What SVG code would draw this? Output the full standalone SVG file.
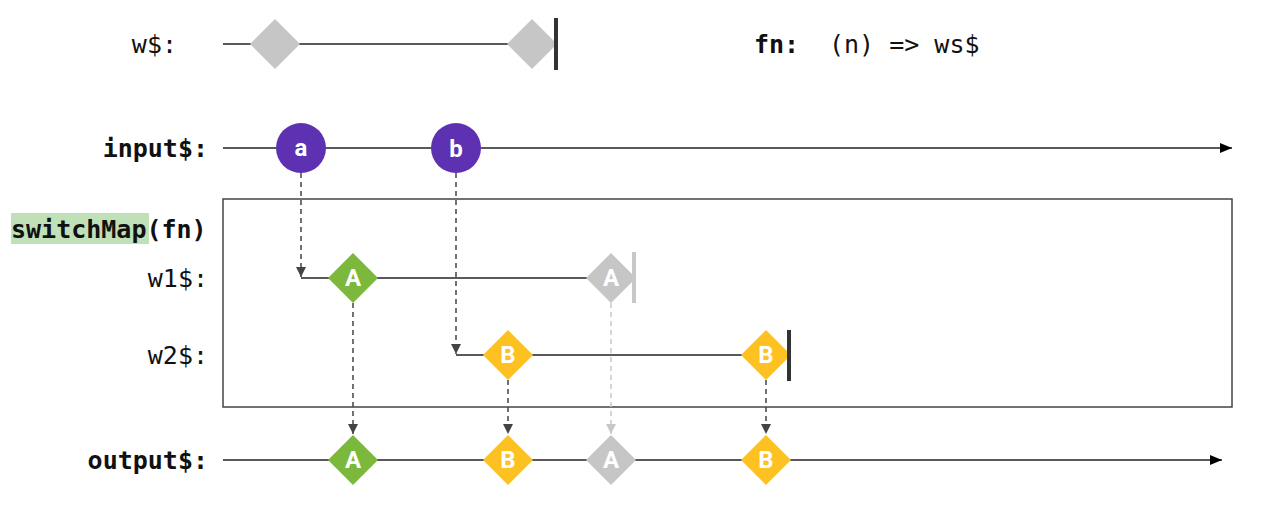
<svg xmlns="http://www.w3.org/2000/svg" width="1276" height="523" viewBox="0 0 1276 523">
<style>
.lbl{font-family:"DejaVu Sans Mono","Liberation Mono",monospace;font-size:25px;fill:#111}
.b{font-weight:bold}
.line{stroke:#222;stroke-width:1.5;fill:none}
.dash{stroke:#444;stroke-width:1.5;stroke-dasharray:5,4;fill:none}
.dashg{stroke:#c8c8c8;stroke-width:1.5;stroke-dasharray:5,4;fill:none}
.in{font-family:Roboto,"Liberation Sans",sans-serif;font-weight:bold;font-size:24px;fill:#fff;text-anchor:middle}
.purple{fill:#5e31b3}
.green{fill:#7cb83b}
.yellow{fill:#fdc122}
.gray{fill:#c6c6c6}
</style>
<defs>
<marker id="ah" viewBox="0 0 10 10" refX="10" refY="5" markerWidth="10" markerHeight="10" markerUnits="userSpaceOnUse" orient="auto"><path d="M0,0L10,5L0,10z" fill="#444"/></marker>
<marker id="ahg" viewBox="0 0 10 10" refX="10" refY="5" markerWidth="10" markerHeight="10" markerUnits="userSpaceOnUse" orient="auto"><path d="M0,0L10,5L0,10z" fill="#c8c8c8"/></marker>
<marker id="ahb" viewBox="0 0 12 10" refX="12" refY="5" markerWidth="12" markerHeight="10" markerUnits="userSpaceOnUse" orient="auto"><path d="M0,0L12,5L0,10z" fill="#000"/></marker>
<path id="dm" d="M0,-25L25,0L0,25L-25,0z"/>
</defs>

<g id="labels">
<text class="lbl" x="177" y="53" text-anchor="end">w$:</text>
<text class="lbl b" x="754" y="53">fn:</text>
<text class="lbl" x="829" y="53">(n) =&gt; ws$</text>
<text class="lbl b" x="208" y="157" text-anchor="end">input$:</text>
<rect x="11" y="213" width="138" height="31" fill="#c0e0b8"/>
<text class="lbl b" x="11" y="238">switchMap(fn)</text>
<text class="lbl" x="208" y="287" text-anchor="end">w1$:</text>
<text class="lbl" x="208" y="364" text-anchor="end">w2$:</text>
<text class="lbl b" x="208" y="469" text-anchor="end">output$:</text>
</g>

<g id="box"><rect x="223" y="199" width="1009" height="208" fill="none" stroke="#444" stroke-width="1.5"/></g>

<g id="connectors">
<line class="line" x1="223" y1="44" x2="556" y2="44"/>
<line class="line" x1="223" y1="148" x2="1232" y2="148" marker-end="url(#ahb)"/>
<line class="line" x1="301" y1="278" x2="611" y2="278"/>
<line class="line" x1="456" y1="355" x2="766" y2="355"/>
<line class="line" x1="223" y1="460" x2="1222" y2="460" marker-end="url(#ahb)"/>
<path class="dash" d="M301,173V277" marker-end="url(#ah)"/>
<path class="dash" d="M456,173V354" marker-end="url(#ah)"/>
<path class="dash" d="M353,303V434" marker-end="url(#ah)"/>
<path class="dash" d="M508,380V434" marker-end="url(#ah)"/>
<path class="dashg" d="M611,303V434" marker-end="url(#ahg)"/>
<path class="dash" d="M766,380V434" marker-end="url(#ah)"/>
</g>

<g id="ws">
<use href="#dm" x="275" y="44" class="gray"/>
<use href="#dm" x="532" y="44" class="gray"/>
<rect x="554" y="18" width="4" height="52" fill="#333"/>
</g>

<g id="input-a"><circle cx="301" cy="148" r="25" class="purple"/><text class="in" x="301" y="156">a</text></g>
<g id="input-b"><circle cx="456" cy="148" r="25" class="purple"/><text class="in" x="456" y="157">b</text></g>

<g id="w1-A"><use href="#dm" x="353" y="278" class="green"/><text class="in" x="353" y="286">A</text></g>
<g id="w1-A2"><use href="#dm" x="611" y="278" class="gray"/><text class="in" x="611" y="286">A</text><rect x="632" y="252" width="4" height="51" fill="#c8c8c8"/></g>

<g id="w2-B"><use href="#dm" x="508" y="355" class="yellow"/><text class="in" x="508" y="363">B</text></g>
<g id="w2-B2"><use href="#dm" x="766" y="355" class="yellow"/><text class="in" x="766" y="363">B</text><rect x="787" y="330" width="4" height="51" fill="#333"/></g>

<g id="out-A"><use href="#dm" x="353" y="460" class="green"/><text class="in" x="353" y="468">A</text></g>
<g id="out-B"><use href="#dm" x="508" y="460" class="yellow"/><text class="in" x="508" y="468">B</text></g>
<g id="out-A2"><use href="#dm" x="611" y="460" class="gray"/><text class="in" x="611" y="468">A</text></g>
<g id="out-B2"><use href="#dm" x="766" y="460" class="yellow"/><text class="in" x="766" y="468">B</text></g>
</svg>
